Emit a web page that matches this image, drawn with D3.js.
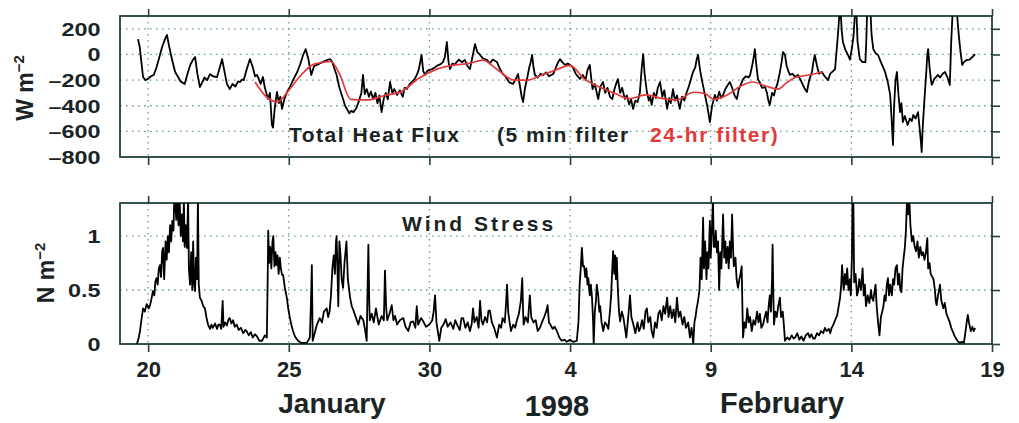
<!DOCTYPE html>
<html>
<head>
<meta charset="utf-8">
<script src="https://cdn.jsdelivr.net/npm/d3@7"></script>
<style>
  body { margin: 0; background: #fff; }
  svg { font-family: "Liberation Sans", Arial, sans-serif; }
</style>
</head>
<body>
<svg id="chart" width="1019" height="423"></svg>
<script>
// day numbers counted from Jan 0, 1998 (Feb 4 = 35)
var dayTicks = [20, 25, 30, 35, 40, 45, 50];
var dayTickLabels = ["20", "25", "30", "4", "9", "14", "19"];
var fluxTicks = [200, 0, -200, -400, -600, -800];
var stressTicks = [0, 0.5, 1];
var stressTickLabels = ["0", "0.5", "1"];

// total heat flux, 5 min filter [day, W m-2]
var fluxRaw = [
  [19.64,120],[19.70,60],[19.76,-60],[19.82,-176],[19.90,-200],[20.00,-190],[20.10,-170],[20.20,-160],
  [20.30,-100],[20.40,-20],[20.50,60],[20.60,120],[20.67,152],[20.75,60],[20.85,-40],[20.96,-137],
  [21.05,-170],[21.15,-210],[21.30,-230],[21.40,-150],[21.50,-80],[21.60,-40],[21.67,-20],[21.75,-150],
  [21.84,-254],[21.92,-220],[22.00,-180],[22.10,-200],[22.20,-153],[22.30,-170],[22.45,-176],[22.55,-100],
  [22.63,-36],[22.72,-140],[22.80,-230],[22.90,-270],[23.00,-230],[23.10,-250],[23.20,-210],[23.27,-215],
  [23.35,-195],[23.40,-200],[23.50,-120],[23.62,-36],[23.72,-100],[23.80,-170],[23.87,-160],[23.95,-200],
  [24.00,-230],[24.08,-176],[24.15,-260],[24.26,-348],[24.33,-300],[24.40,-550],[24.44,-570],[24.50,-420],
  [24.58,-293],[24.65,-380],[24.70,-330],[24.76,-425],[24.84,-350],[24.94,-293],[25.05,-250],[25.15,-200],
  [25.30,-137],[25.40,-80],[25.50,-10],[25.60,42],[25.70,-40],[25.80,-160],[25.90,-90],[26.00,-82],
  [26.10,-70],[26.20,-60],[26.30,-50],[26.40,-40],[26.47,-36],[26.55,-60],[26.62,-110],[26.70,-160],
  [26.80,-260],[26.93,-348],[27.00,-400],[27.07,-425],[27.15,-460],[27.22,-440],[27.30,-450],[27.40,-420],
  [27.50,-360],[27.58,-300],[27.64,-160],[27.70,-310],[27.77,-270],[27.85,-330],[27.92,-290],[28.00,-348],
  [28.08,-300],[28.15,-380],[28.22,-320],[28.30,-450],[28.38,-340],[28.45,-300],[28.52,-350],[28.60,-215],
  [28.68,-300],[28.75,-270],[28.85,-316],[28.95,-280],[29.05,-330],[29.12,-260],[29.20,-270],[29.30,-230],
  [29.40,-210],[29.48,-190],[29.55,-160],[29.62,-120],[29.72,-4],[29.78,-130],[29.84,-160],[29.92,-130],
  [30.00,-120],[30.10,-114],[30.20,-100],[30.30,-85],[30.40,-75],[30.48,-60],[30.55,-20],[30.62,97],
  [30.68,-60],[30.73,-114],[30.82,-70],[30.90,-80],[30.97,-59],[31.05,-40],[31.15,-60],[31.26,-43],
  [31.35,-90],[31.44,-114],[31.52,-30],[31.62,81],[31.70,20],[31.80,-4],[31.90,-30],[32.05,-43],
  [32.15,-70],[32.25,-40],[32.40,-59],[32.50,-110],[32.60,-150],[32.70,-170],[32.76,-192],[32.85,-220],
  [32.97,-230],[33.05,-200],[33.15,-153],[33.22,-250],[33.28,-330],[33.33,-371],[33.40,-260],[33.47,-192],
  [33.55,-100],[33.60,-60],[33.65,-4],[33.70,-100],[33.75,-160],[33.85,-180],[33.95,-150],[34.04,-160],
  [34.15,-140],[34.25,-170],[34.40,-153],[34.50,-100],[34.58,-60],[34.64,-36],[34.72,-60],[34.82,-82],
  [34.92,-70],[35.00,-82],[35.10,-100],[35.20,-150],[35.35,-192],[35.45,-160],[35.55,-200],[35.62,-120],
  [35.70,-82],[35.75,-180],[35.80,-270],[35.88,-230],[35.95,-300],[36.00,-348],[36.08,-250],[36.17,-215],
  [36.25,-300],[36.33,-260],[36.42,-330],[36.50,-348],[36.58,-270],[36.65,-220],[36.70,-192],[36.78,-300],
  [36.85,-260],[36.95,-348],[37.02,-320],[37.10,-390],[37.17,-350],[37.24,-425],[37.32,-360],[37.40,-371],
  [37.48,-300],[37.55,-100],[37.60,3],[37.65,-150],[37.73,-293],[37.80,-360],[37.85,-330],[37.90,-394],
  [37.98,-300],[38.05,-340],[38.12,-260],[38.20,-215],[38.28,-330],[38.35,-280],[38.45,-425],[38.52,-340],
  [38.58,-380],[38.66,-270],[38.73,-360],[38.80,-320],[38.90,-425],[38.98,-330],[39.06,-360],[39.15,-293],
  [39.22,-250],[39.30,-190],[39.37,-137],[39.45,-100],[39.50,-40],[39.55,-4],[39.62,-120],[39.70,-215],
  [39.78,-300],[39.87,-394],[39.92,-460],[39.97,-527],[40.05,-400],[40.15,-316],[40.22,-360],[40.30,-290],
  [40.37,-340],[40.44,-316],[40.52,-270],[40.60,-240],[40.68,-215],[40.76,-260],[40.85,-320],[40.93,-348],
  [41.00,-270],[41.08,-230],[41.15,-192],[41.25,-170],[41.35,-180],[41.40,-160],[41.48,-80],[41.53,-20],
  [41.57,42],[41.62,-80],[41.68,-192],[41.75,-220],[41.82,-260],[41.93,-254],[42.00,-300],[42.05,-360],
  [42.10,-394],[42.18,-300],[42.25,-320],[42.30,-270],[42.36,-238],[42.45,-150],[42.52,-60],[42.57,19],
  [42.64,-4],[42.70,-90],[42.76,-130],[42.82,-160],[42.90,-150],[43.00,-175],[43.10,-160],[43.20,-200],
  [43.28,-240],[43.35,-270],[43.42,-293],[43.50,-200],[43.60,-137],[43.65,-60],[43.70,-4],[43.78,-90],
  [43.85,-150],[43.95,-137],[44.05,-170],[44.17,-200],[44.25,-150],[44.35,-130],[44.42,-114],[44.48,40],
  [44.53,175],[44.58,330],[44.62,330],[44.66,180],[44.70,97],[44.78,40],[44.88,-4],[44.95,-40],
  [45.02,50],[45.08,150],[45.13,330],[45.18,330],[45.22,100],[45.30,-36],[45.40,-60],[45.50,-59],
  [45.53,100],[45.56,330],[45.68,330],[45.72,150],[45.78,42],[45.86,10],[45.95,-4],[46.05,-60],
  [46.15,-110],[46.20,-137],[46.30,-220],[46.38,-316],[46.43,-500],[46.48,-706],[46.52,-400],[46.57,-200],
  [46.62,-137],[46.67,-300],[46.73,-450],[46.78,-380],[46.83,-527],[46.90,-480],[47.00,-550],[47.08,-500],
  [47.15,-520],[47.20,-472],[47.28,-500],[47.37,-450],[47.42,-560],[47.48,-700],[47.50,-761],[47.53,-600],
  [47.57,-450],[47.60,-348],[47.66,-150],[47.70,0],[47.73,42],[47.78,-100],[47.83,-200],[47.86,-238],
  [47.95,-190],[48.08,-160],[48.15,-180],[48.25,-150],[48.33,-137],[48.42,-180],[48.50,-238],[48.55,100],
  [48.60,330],[48.75,330],[48.82,150],[48.88,20],[48.94,-82],[49.00,-60],[49.10,-43],[49.20,-40],
  [49.30,-20],[49.40,3]
];

// total heat flux, 24-hr filter [day, W m-2]
var fluxDaily = [
  [23.8,-215],[24.2,-330],[24.6,-370],[25.0,-280],[25.4,-170],[25.9,-75],[26.5,-55],[26.8,-150],
  [27.2,-350],[27.8,-355],[28.4,-320],[29.0,-290],[29.6,-190],[30.2,-120],[30.8,-85],[31.4,-70],
  [31.9,-45],[32.4,-115],[33.0,-200],[33.5,-200],[34.0,-160],[34.5,-120],[35.0,-85],[35.5,-190],
  [36.0,-250],[36.6,-305],[37.1,-345],[37.7,-315],[38.3,-345],[38.8,-355],[39.4,-295],[39.8,-305],
  [40.1,-350],[40.6,-315],[41.0,-255],[41.5,-215],[42.0,-250],[42.4,-270],[42.7,-220],[43.0,-180],
  [43.5,-160],[44.0,-135]
];

// wind stress [day, N m-2]
var stressRaw = [
  [19.60,0],[19.66,0.05],[19.71,0.12],[19.76,0.22],[19.82,0.33],[19.88,0.30],[19.95,0.37],[20.02,0.33],
  [20.07,0.36],[20.12,0.42],[20.17,0.49],[20.22,0.45],[20.26,0.58],[20.30,0.61],[20.34,0.55],[20.38,0.70],
  [20.42,0.73],[20.46,0.62],[20.50,0.86],[20.53,0.89],[20.57,0.60],[20.62,0.95],[20.66,0.78],[20.70,1.00],
  [20.74,0.85],[20.78,1.10],[20.82,0.95],[20.86,1.14],[20.90,1.05],[20.93,1.35],[20.96,1.35],[21.00,1.15],
  [21.04,1.35],[21.08,1.10],[21.12,1.35],[21.16,1.00],[21.20,1.20],[21.24,0.95],[21.27,1.35],[21.30,0.90],
  [21.34,1.10],[21.38,0.89],[21.42,1.35],[21.45,0.70],[21.49,0.55],[21.53,0.85],[21.57,0.50],[21.60,0.95],
  [21.64,0.55],[21.67,0.49],[21.70,0.80],[21.74,0.60],[21.77,1.35],[21.80,0.55],[21.84,0.43],[21.90,0.40],
  [21.96,0.35],[22.02,0.33],[22.07,0.25],[22.13,0.18],[22.20,0.14],[22.25,0.18],[22.30,0.15],[22.38,0.19],
  [22.45,0.14],[22.50,0.18],[22.55,0.18],[22.60,0.14],[22.65,0.40],[22.68,0.16],[22.74,0.20],[22.80,0.17],
  [22.86,0.23],[22.90,0.24],[22.96,0.19],[23.02,0.22],[23.08,0.16],[23.15,0.18],[23.22,0.13],[23.30,0.15],
  [23.38,0.10],[23.45,0.13],[23.50,0.12],[23.58,0.08],[23.65,0.11],[23.72,0.06],[23.80,0.09],[23.87,0.07],
  [23.95,0.03],[24.05,0.03],[24.15,0.08],[24.22,0.06],[24.25,0.60],[24.27,1.05],[24.30,0.75],[24.34,0.90],
  [24.38,0.70],[24.42,0.95],[24.45,1.00],[24.49,0.72],[24.53,0.85],[24.56,0.73],[24.60,0.82],[24.64,0.65],
  [24.68,0.80],[24.72,0.70],[24.76,0.64],[24.80,0.64],[24.86,0.52],[24.93,0.43],[24.98,0.33],[25.04,0.24],
  [25.10,0.17],[25.15,0.12],[25.22,0.07],[25.33,0.03],[25.45,0.01],[25.64,0.01],[25.75,0.06],[25.79,0.40],
  [25.82,0.73],[25.85,0.03],[25.92,0.10],[26.00,0.18],[26.10,0.24],[26.18,0.20],[26.25,0.30],[26.35,0.33],
  [26.40,0.25],[26.45,0.30],[26.50,0.45],[26.55,0.70],[26.60,0.82],[26.64,0.65],[26.68,0.95],[26.70,1.00],
  [26.73,0.70],[26.76,0.35],[26.80,0.95],[26.84,0.82],[26.88,0.60],[26.93,0.52],[26.98,0.75],[27.05,0.95],
  [27.10,0.60],[27.18,0.43],[27.24,0.35],[27.30,0.31],[27.38,0.25],[27.47,0.18],[27.55,0.26],[27.65,0.22],
  [27.72,0.12],[27.77,0.03],[27.80,0.50],[27.83,0.92],[27.86,0.40],[27.88,0.22],[27.95,0.28],[28.02,0.20],
  [28.10,0.33],[28.15,0.25],[28.20,0.18],[28.30,0.26],[28.38,0.22],[28.42,0.68],[28.46,0.35],[28.50,0.22],
  [28.58,0.28],[28.66,0.36],[28.72,0.22],[28.78,0.26],[28.85,0.18],[28.95,0.22],[29.07,0.24],[29.15,0.16],
  [29.25,0.12],[29.33,0.20],[29.42,0.21],[29.50,0.15],[29.55,0.35],[29.60,0.18],[29.70,0.24],[29.78,0.21],
  [29.88,0.16],[30.00,0.18],[30.10,0.22],[30.15,0.30],[30.20,0.45],[30.25,0.20],[30.35,0.03],[30.42,0.15],
  [30.50,0.18],[30.58,0.23],[30.65,0.16],[30.75,0.20],[30.85,0.14],[30.92,0.22],[31.00,0.17],[31.08,0.13],
  [31.14,0.24],[31.20,0.24],[31.28,0.15],[31.36,0.20],[31.44,0.12],[31.50,0.18],[31.55,0.33],[31.60,0.20],
  [31.68,0.25],[31.75,0.15],[31.80,0.40],[31.85,0.22],[31.90,0.18],[31.98,0.25],[32.05,0.20],[32.10,0.31],
  [32.15,0.31],[32.22,0.20],[32.30,0.15],[32.40,0.06],[32.48,0.18],[32.55,0.15],[32.60,0.24],[32.68,0.20],
  [32.73,0.40],[32.76,0.55],[32.80,0.30],[32.85,0.20],[32.90,0.12],[32.98,0.18],[33.05,0.15],[33.10,0.21],
  [33.18,0.28],[33.25,0.40],[33.30,0.61],[33.33,0.30],[33.35,0.18],[33.42,0.25],[33.50,0.20],[33.57,0.45],
  [33.62,0.25],[33.70,0.20],[33.78,0.22],[33.85,0.12],[33.93,0.15],[34.00,0.20],[34.08,0.25],[34.15,0.30],
  [34.20,0.36],[34.25,0.20],[34.30,0.18],[34.38,0.14],[34.45,0.16],[34.53,0.12],[34.62,0.06],[34.70,0.03],
  [34.80,0.04],[34.88,0.02],[35.00,0.04],[35.10,0.02],[35.24,0.03],[35.30,0.21],[35.34,0.55],[35.38,0.70],
  [35.42,0.89],[35.46,0.72],[35.50,0.72],[35.54,0.62],[35.58,0.70],[35.62,0.55],[35.65,0.61],[35.70,0.45],
  [35.74,0.55],[35.78,0.43],[35.82,0.20],[35.84,0.00],[35.88,0.30],[35.92,0.40],[35.95,0.55],[36.00,0.45],
  [36.04,0.30],[36.07,0.35],[36.12,0.20],[36.18,0.12],[36.24,0.20],[36.30,0.18],[36.36,0.14],[36.42,0.31],
  [36.46,0.45],[36.50,0.70],[36.53,0.86],[36.57,0.65],[36.60,0.82],[36.63,0.60],[36.66,0.80],[36.70,0.50],
  [36.74,0.30],[36.78,0.21],[36.84,0.30],[36.90,0.24],[36.95,0.15],[37.00,0.06],[37.05,0.20],[37.10,0.35],
  [37.13,0.45],[37.18,0.25],[37.25,0.18],[37.32,0.10],[37.40,0.20],[37.45,0.12],[37.50,0.15],[37.56,0.22],
  [37.62,0.14],[37.68,0.30],[37.73,0.33],[37.78,0.20],[37.85,0.25],[37.90,0.12],[37.96,0.06],[38.02,0.20],
  [38.08,0.15],[38.14,0.28],[38.20,0.31],[38.26,0.22],[38.32,0.35],[38.38,0.28],[38.45,0.43],[38.50,0.25],
  [38.56,0.35],[38.62,0.24],[38.68,0.32],[38.74,0.20],[38.80,0.43],[38.86,0.25],[38.92,0.30],[39.00,0.18],
  [39.06,0.25],[39.12,0.15],[39.20,0.20],[39.26,0.06],[39.32,0.15],[39.38,0.00],[39.42,0.20],[39.46,0.25],
  [39.50,0.33],[39.55,0.40],[39.60,0.50],[39.64,0.80],[39.68,0.60],[39.73,1.17],[39.76,0.70],[39.80,0.95],
  [39.85,0.60],[39.88,0.85],[39.92,0.70],[39.97,1.14],[40.00,0.80],[40.04,1.05],[40.08,1.35],[40.11,0.90],
  [40.15,0.90],[40.18,1.05],[40.22,0.85],[40.26,0.95],[40.30,0.50],[40.34,0.85],[40.38,0.70],[40.44,1.20],
  [40.48,0.80],[40.52,0.95],[40.55,0.75],[40.60,0.90],[40.64,0.70],[40.68,0.95],[40.72,0.80],[40.76,1.20],
  [40.80,0.85],[40.82,0.72],[40.88,0.80],[40.92,0.60],[40.97,0.52],[41.02,0.60],[41.06,0.65],[41.10,0.72],
  [41.13,0.30],[41.15,0.06],[41.20,0.20],[41.25,0.15],[41.30,0.33],[41.35,0.20],[41.40,0.25],[41.46,0.12],
  [41.52,0.22],[41.58,0.18],[41.65,0.30],[41.70,0.20],[41.75,0.28],[41.80,0.15],[41.86,0.18],[41.92,0.25],
  [41.97,0.30],[42.02,0.20],[42.06,0.35],[42.10,0.45],[42.14,0.30],[42.18,0.60],[42.20,0.92],[42.23,0.40],
  [42.25,0.18],[42.30,0.30],[42.35,0.25],[42.40,0.35],[42.46,0.43],[42.50,0.25],[42.56,0.30],[42.60,0.18],
  [42.64,0.03],[42.72,0.06],[42.80,0.04],[42.88,0.08],[42.95,0.05],[43.00,0.06],[43.08,0.10],[43.15,0.04],
  [43.22,0.07],[43.30,0.03],[43.38,0.08],[43.46,0.10],[43.52,0.06],[43.58,0.09],[43.65,0.05],[43.70,0.05],
  [43.78,0.10],[43.85,0.08],[43.92,0.12],[44.00,0.10],[44.06,0.15],[44.12,0.12],[44.20,0.14],[44.25,0.10],
  [44.30,0.15],[44.36,0.18],[44.42,0.22],[44.50,0.27],[44.55,0.35],[44.60,0.43],[44.64,0.55],[44.67,0.73],
  [44.70,0.60],[44.73,0.50],[44.77,0.65],[44.82,0.55],[44.85,0.70],[44.90,0.50],[44.95,0.60],[44.98,0.45],
  [45.02,0.80],[45.04,1.35],[45.07,1.35],[45.10,0.57],[45.15,0.65],[45.20,0.45],[45.24,0.49],[45.28,0.60],
  [45.34,0.50],[45.40,0.70],[45.44,0.45],[45.48,0.55],[45.52,0.35],[45.58,0.45],[45.64,0.38],[45.70,0.50],
  [45.73,0.43],[45.78,0.40],[45.83,0.50],[45.86,0.55],[45.90,0.35],[45.95,0.20],[46.00,0.08],[46.05,0.25],
  [46.10,0.30],[46.14,0.35],[46.18,0.45],[46.22,0.40],[46.26,0.55],[46.30,0.61],[46.34,0.45],[46.38,0.55],
  [46.44,0.45],[46.48,0.60],[46.52,0.55],[46.57,0.70],[46.62,0.73],[46.66,0.55],[46.70,0.65],[46.74,0.50],
  [46.78,0.48],[46.82,0.70],[46.86,0.80],[46.90,0.89],[46.94,1.05],[46.98,1.35],[47.02,1.20],[47.06,1.35],
  [47.10,1.10],[47.15,0.95],[47.20,1.00],[47.25,0.90],[47.30,0.86],[47.35,0.95],[47.40,0.80],[47.45,0.90],
  [47.50,0.82],[47.55,0.85],[47.60,0.78],[47.65,0.85],[47.70,0.98],[47.73,0.70],[47.78,0.75],[47.82,0.65],
  [47.88,0.62],[47.92,0.60],[47.97,0.50],[48.00,0.40],[48.03,0.36],[48.08,0.45],[48.12,0.50],[48.15,0.55],
  [48.20,0.40],[48.27,0.33],[48.32,0.38],[48.38,0.28],[48.44,0.24],[48.50,0.20],[48.55,0.15],[48.60,0.12],
  [48.66,0.08],[48.72,0.05],[48.80,0.02],[48.86,0.01],[48.94,0.02],[49.00,0.01],[49.05,0.10],[49.10,0.20],
  [49.14,0.27],[49.18,0.20],[49.22,0.15],[49.25,0.12],[49.30,0.16],[49.35,0.12],[49.40,0.15]
];

var svg = d3.select("#chart");
var ink = "#1b2424", frame = "#234040", gridColor = "#5f9c9c", red = "#e23a3a";

var x = d3.scaleLinear().domain([19, 50]).range([120, 992]);
var yFlux = d3.scaleLinear().domain([-800, 300]).range([157, 16]);
var yStress = d3.scaleLinear().domain([0, 1.306]).range([344, 203]);

function panel(id, y, yTicks, yLabels, showDays) {
  var top = y.range()[1], bottom = y.range()[0];
  var g = svg.append("g");

  g.append("clipPath").attr("id", id)
    .append("rect").attr("x", x.range()[0]).attr("y", top)
    .attr("width", x.range()[1] - x.range()[0]).attr("height", bottom - top);

  // dotted grid
  g.selectAll(".hgrid").data(yTicks.filter(function(v) { return y(v) < bottom - 1 && y(v) > top + 1; }))
    .enter().append("line")
      .attr("x1", x.range()[0]).attr("x2", x.range()[1])
      .attr("y1", function(v) { return y(v); }).attr("y2", function(v) { return y(v); })
      .attr("stroke", gridColor).attr("stroke-width", 1.3).attr("stroke-dasharray", "1.5,4.5");
  g.selectAll(".vgrid").data(dayTicks.slice(0, -1))
    .enter().append("line")
      .attr("x1", function(d) { return x(d); }).attr("x2", function(d) { return x(d); })
      .attr("y1", top).attr("y2", bottom)
      .attr("stroke", gridColor).attr("stroke-width", 1.3).attr("stroke-dasharray", "1.5,4.5");

  // outward tick marks, top / bottom / right
  var axTop = g.append("g").attr("transform", "translate(0," + top + ")")
    .call(d3.axisTop(x).tickValues(dayTicks).tickSize(7).tickFormat(""));
  var axBot = g.append("g").attr("transform", "translate(0," + bottom + ")")
    .call(d3.axisBottom(x).tickValues(dayTicks).tickSize(8).tickPadding(9)
      .tickFormat(function(d, i) { return showDays ? dayTickLabels[i] : ""; }));
  var axRight = g.append("g").attr("transform", "translate(" + x.range()[1] + ",0)")
    .call(d3.axisRight(y).tickValues(yTicks).tickSize(8).tickFormat(""));
  var axLeft = g.append("g").attr("transform", "translate(" + x.range()[0] + ",0)")
    .call(d3.axisLeft(y).tickValues(yTicks).tickSize(0)
      .tickFormat(function(d, i) { return yLabels[i]; }));

  [axTop, axBot, axRight, axLeft].forEach(function(a) {
    a.select(".domain").remove();
    a.selectAll("line").attr("stroke", frame).attr("stroke-width", 1.6);
  });
  axLeft.selectAll("text")
    .attr("x", -15).attr("dy", "0.36em")
    .attr("transform", "scale(1.3,1)")
    .attr("fill", ink).attr("font-size", 18).attr("font-weight", "bold")
    .attr("font-family", "Liberation Sans, Arial, sans-serif");
  axBot.selectAll("text")
    .attr("fill", ink).attr("font-size", 22).attr("font-weight", "bold")
    .attr("font-family", "Liberation Sans, Arial, sans-serif");

  g.append("rect")
    .attr("x", x.range()[0]).attr("y", top)
    .attr("width", x.range()[1] - x.range()[0]).attr("height", bottom - top)
    .attr("fill", "none").attr("stroke", frame).attr("stroke-width", 1.8);

  return g.append("g").attr("clip-path", "url(#" + id + ")");
}

var line = function(y) {
  return d3.line().x(function(d) { return x(d[0]); }).y(function(d) { return y(d[1]); });
};

// top panel: heat flux
var fluxLabels = fluxTicks.map(function(v) { return v < 0 ? "\u2013" + (-v) : String(v); });
var p1 = panel("clipFlux", yFlux, fluxTicks, fluxLabels, false);
p1.append("path").datum(fluxRaw).attr("d", line(yFlux))
  .attr("fill", "none").attr("stroke", "#000").attr("stroke-width", 1.8).attr("stroke-linejoin", "round");
p1.append("path").datum(fluxDaily).attr("d", line(yFlux).curve(d3.curveMonotoneX))
  .attr("fill", "none").attr("stroke", red).attr("stroke-width", 1.7);

// bottom panel: wind stress
var p2 = panel("clipStress", yStress, stressTicks, stressTickLabels, true);
p2.append("path").datum(stressRaw).attr("d", line(yStress))
  .attr("fill", "none").attr("stroke", "#000").attr("stroke-width", 1.8).attr("stroke-linejoin", "round");

// panel titles
var t1 = svg.append("text").attr("y", 142).attr("font-size", 21).attr("font-weight", "bold")
  .attr("letter-spacing", 1.5).attr("fill", ink);
t1.append("tspan").attr("x", 289).text("Total Heat Flux");
t1.append("tspan").attr("x", 497).text("(5 min filter");
t1.append("tspan").attr("x", 650).attr("fill", red).text("24-hr filter)");

svg.append("text").attr("x", 402).attr("y", 231).attr("font-size", 21).attr("font-weight", "bold")
  .attr("letter-spacing", 3).attr("fill", ink).text("Wind Stress");

// y axis titles
function yTitle(cx, cy, base) {
  var t = svg.append("text").attr("transform", "translate(" + cx + "," + cy + ") rotate(-90)")
    .attr("text-anchor", "middle").attr("font-size", 23).attr("font-weight", "bold").attr("fill", ink);
  t.append("tspan").text(base + " m");
  t.append("tspan").attr("dy", -9).attr("font-size", 15).text("\u22122");
}
yTitle(33, 88, "W");
yTitle(54, 273, "N");

// x axis titles
svg.append("text").attr("x", 332).attr("y", 413).attr("text-anchor", "middle")
  .attr("font-size", 28).attr("font-weight", "bold").attr("fill", ink).text("January");
svg.append("text").attr("x", 557).attr("y", 416).attr("text-anchor", "middle")
  .attr("font-size", 29).attr("font-weight", "bold").attr("fill", ink).text("1998");
svg.append("text").attr("x", 782).attr("y", 413).attr("text-anchor", "middle")
  .attr("font-size", 29).attr("font-weight", "bold").attr("fill", ink).text("February");
</script>
</body>
</html>
